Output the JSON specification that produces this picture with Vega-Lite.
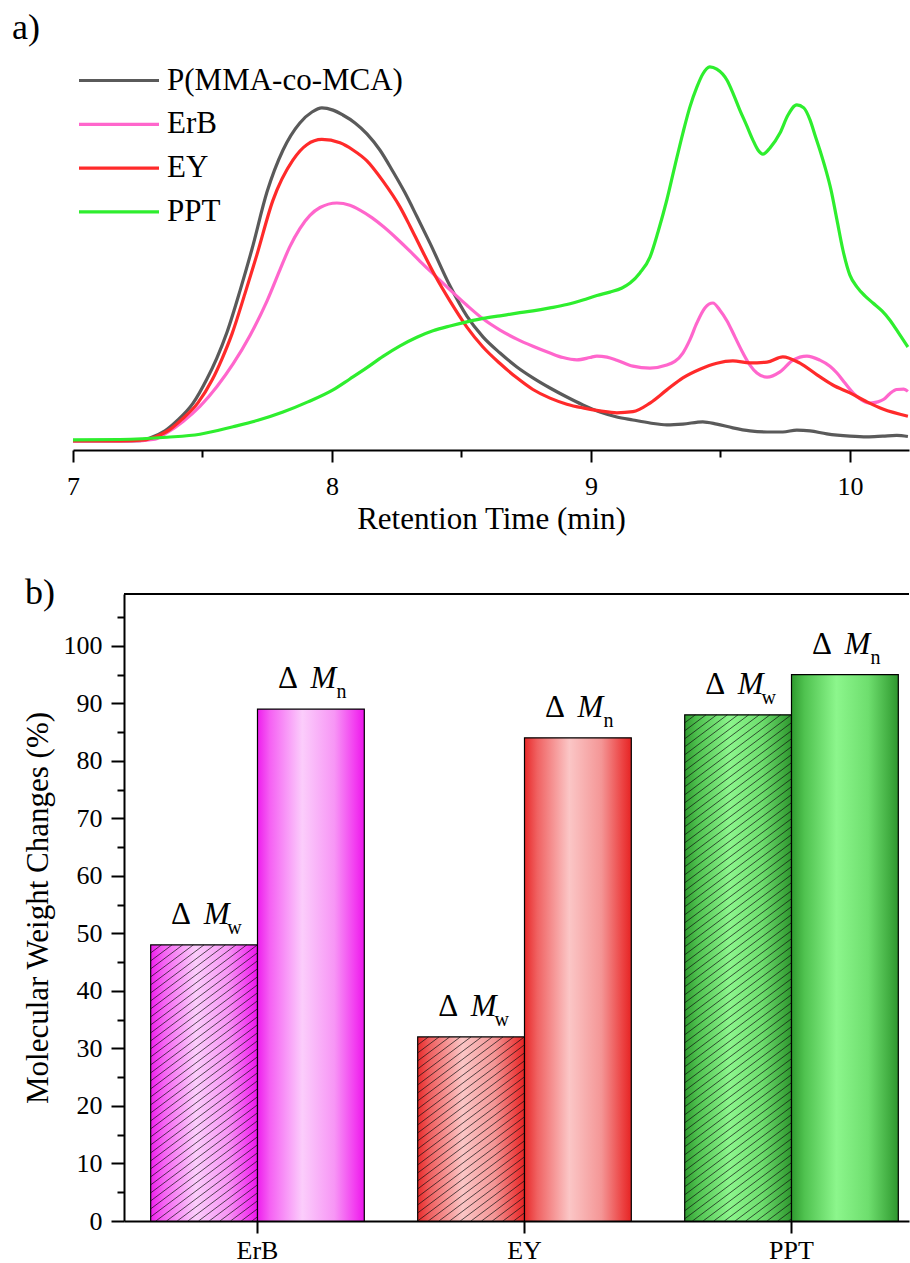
{
  "$schema": "https://vega.github.io/schema/vega-lite/v6.json",
  "background": "white",
  "padding": {"left": 12, "top": 10, "right": 0, "bottom": 0},
  "spacing": 40,
  "config": {
    "font": "'Liberation Serif', 'Times New Roman', serif",
    "view": {"stroke": null},
    "axis": {
      "labelFont": "'Liberation Serif', 'Times New Roman', serif", "titleFont": "'Liberation Serif', 'Times New Roman', serif",
      "labelColor": "#000", "titleColor": "#000", "domainColor": "#000", "tickColor": "#000",
      "domainWidth": 2, "tickWidth": 2, "labelFontSize": 26, "titleFontSize": 31,
      "titleFontWeight": "normal", "grid": false
    },
    "title": {"font": "'Liberation Serif', 'Times New Roman', serif", "fontSize": 36, "fontWeight": "normal", "color": "#000", "anchor": "start", "frame": "group"}
  },
  "datasets": {
    "gpc": [
      {"sample":"P(MMA-co-MCA)","t":7.000,"s":0},{"sample":"P(MMA-co-MCA)","t":7.181,"s":0},{"sample":"P(MMA-co-MCA)","t":7.259,"s":0.001},{"sample":"P(MMA-co-MCA)","t":7.297,"s":0.008},{"sample":"P(MMA-co-MCA)","t":7.355,"s":0.027},{"sample":"P(MMA-co-MCA)","t":7.402,"s":0.054},{"sample":"P(MMA-co-MCA)","t":7.463,"s":0.100},{"sample":"P(MMA-co-MCA)","t":7.517,"s":0.165},{"sample":"P(MMA-co-MCA)","t":7.555,"s":0.220},{"sample":"P(MMA-co-MCA)","t":7.595,"s":0.290},{"sample":"P(MMA-co-MCA)","t":7.645,"s":0.400},{"sample":"P(MMA-co-MCA)","t":7.691,"s":0.510},{"sample":"P(MMA-co-MCA)","t":7.749,"s":0.662},{"sample":"P(MMA-co-MCA)","t":7.811,"s":0.774},{"sample":"P(MMA-co-MCA)","t":7.876,"s":0.846},{"sample":"P(MMA-co-MCA)","t":7.923,"s":0.875},{"sample":"P(MMA-co-MCA)","t":7.961,"s":0.886},{"sample":"P(MMA-co-MCA)","t":8.004,"s":0.880},{"sample":"P(MMA-co-MCA)","t":8.042,"s":0.867},{"sample":"P(MMA-co-MCA)","t":8.089,"s":0.846},{"sample":"P(MMA-co-MCA)","t":8.135,"s":0.817},{"sample":"P(MMA-co-MCA)","t":8.185,"s":0.774},{"sample":"P(MMA-co-MCA)","t":8.236,"s":0.716},{"sample":"P(MMA-co-MCA)","t":8.282,"s":0.660},{"sample":"P(MMA-co-MCA)","t":8.328,"s":0.597},{"sample":"P(MMA-co-MCA)","t":8.378,"s":0.527},{"sample":"P(MMA-co-MCA)","t":8.456,"s":0.412},{"sample":"P(MMA-co-MCA)","t":8.521,"s":0.332},{"sample":"P(MMA-co-MCA)","t":8.583,"s":0.277},{"sample":"P(MMA-co-MCA)","t":8.649,"s":0.234},{"sample":"P(MMA-co-MCA)","t":8.714,"s":0.197},{"sample":"P(MMA-co-MCA)","t":8.776,"s":0.168},{"sample":"P(MMA-co-MCA)","t":8.842,"s":0.141},{"sample":"P(MMA-co-MCA)","t":8.907,"s":0.117},{"sample":"P(MMA-co-MCA)","t":8.969,"s":0.096},{"sample":"P(MMA-co-MCA)","t":9.035,"s":0.077},{"sample":"P(MMA-co-MCA)","t":9.100,"s":0.064},{"sample":"P(MMA-co-MCA)","t":9.162,"s":0.056},{"sample":"P(MMA-co-MCA)","t":9.228,"s":0.048},{"sample":"P(MMA-co-MCA)","t":9.293,"s":0.043},{"sample":"P(MMA-co-MCA)","t":9.355,"s":0.045},{"sample":"P(MMA-co-MCA)","t":9.432,"s":0.051},{"sample":"P(MMA-co-MCA)","t":9.486,"s":0.045},{"sample":"P(MMA-co-MCA)","t":9.548,"s":0.035},{"sample":"P(MMA-co-MCA)","t":9.614,"s":0.027},{"sample":"P(MMA-co-MCA)","t":9.680,"s":0.024},{"sample":"P(MMA-co-MCA)","t":9.741,"s":0.024},{"sample":"P(MMA-co-MCA)","t":9.795,"s":0.029},{"sample":"P(MMA-co-MCA)","t":9.846,"s":0.027},{"sample":"P(MMA-co-MCA)","t":9.911,"s":0.019},{"sample":"P(MMA-co-MCA)","t":10.000,"s":0.013},{"sample":"P(MMA-co-MCA)","t":10.066,"s":0.011},{"sample":"P(MMA-co-MCA)","t":10.127,"s":0.013},{"sample":"P(MMA-co-MCA)","t":10.181,"s":0.015},{"sample":"P(MMA-co-MCA)","t":10.224,"s":0.012},

      {"sample":"ErB","t":7.000,"s":0},{"sample":"ErB","t":7.220,"s":0},{"sample":"ErB","t":7.317,"s":0.005},{"sample":"ErB","t":7.363,"s":0.022},{"sample":"ErB","t":7.425,"s":0.052},{"sample":"ErB","t":7.490,"s":0.092},{"sample":"ErB","t":7.556,"s":0.145},{"sample":"ErB","t":7.618,"s":0.205},{"sample":"ErB","t":7.683,"s":0.280},{"sample":"ErB","t":7.749,"s":0.372},{"sample":"ErB","t":7.799,"s":0.455},{"sample":"ErB","t":7.836,"s":0.515},{"sample":"ErB","t":7.876,"s":0.565},{"sample":"ErB","t":7.915,"s":0.600},{"sample":"ErB","t":7.954,"s":0.621},{"sample":"ErB","t":8.019,"s":0.633},{"sample":"ErB","t":8.069,"s":0.627},{"sample":"ErB","t":8.108,"s":0.614},{"sample":"ErB","t":8.154,"s":0.594},{"sample":"ErB","t":8.197,"s":0.571},{"sample":"ErB","t":8.251,"s":0.538},{"sample":"ErB","t":8.301,"s":0.505},{"sample":"ErB","t":8.340,"s":0.478},{"sample":"ErB","t":8.398,"s":0.440},{"sample":"ErB","t":8.456,"s":0.402},{"sample":"ErB","t":8.521,"s":0.361},{"sample":"ErB","t":8.583,"s":0.325},{"sample":"ErB","t":8.649,"s":0.295},{"sample":"ErB","t":8.714,"s":0.271},{"sample":"ErB","t":8.776,"s":0.252},{"sample":"ErB","t":8.842,"s":0.234},{"sample":"ErB","t":8.892,"s":0.222},{"sample":"ErB","t":8.946,"s":0.216},{"sample":"ErB","t":8.996,"s":0.222},{"sample":"ErB","t":9.023,"s":0.226},{"sample":"ErB","t":9.062,"s":0.223},{"sample":"ErB","t":9.100,"s":0.215},{"sample":"ErB","t":9.162,"s":0.199},{"sample":"ErB","t":9.228,"s":0.194},{"sample":"ErB","t":9.293,"s":0.202},{"sample":"ErB","t":9.355,"s":0.234},{"sample":"ErB","t":9.382,"s":0.269},{"sample":"ErB","t":9.409,"s":0.314},{"sample":"ErB","t":9.440,"s":0.354},{"sample":"ErB","t":9.471,"s":0.367},{"sample":"ErB","t":9.498,"s":0.348},{"sample":"ErB","t":9.525,"s":0.320},{"sample":"ErB","t":9.556,"s":0.277},{"sample":"ErB","t":9.587,"s":0.234},{"sample":"ErB","t":9.614,"s":0.202},{"sample":"ErB","t":9.641,"s":0.181},{"sample":"ErB","t":9.680,"s":0.170},{"sample":"ErB","t":9.730,"s":0.184},{"sample":"ErB","t":9.780,"s":0.215},{"sample":"ErB","t":9.834,"s":0.226},{"sample":"ErB","t":9.884,"s":0.215},{"sample":"ErB","t":9.923,"s":0.199},{"sample":"ErB","t":9.950,"s":0.181},{"sample":"ErB","t":9.981,"s":0.154},{"sample":"ErB","t":10.012,"s":0.128},{"sample":"ErB","t":10.046,"s":0.109},{"sample":"ErB","t":10.077,"s":0.101},{"sample":"ErB","t":10.108,"s":0.104},{"sample":"ErB","t":10.131,"s":0.111},{"sample":"ErB","t":10.154,"s":0.126},{"sample":"ErB","t":10.181,"s":0.137},{"sample":"ErB","t":10.208,"s":0.138},{"sample":"ErB","t":10.224,"s":0.132},

      {"sample":"EY","t":7.000,"s":0},{"sample":"EY","t":7.181,"s":0},{"sample":"EY","t":7.278,"s":0.003},{"sample":"EY","t":7.317,"s":0.011},{"sample":"EY","t":7.375,"s":0.031},{"sample":"EY","t":7.421,"s":0.058},{"sample":"EY","t":7.483,"s":0.102},{"sample":"EY","t":7.537,"s":0.162},{"sample":"EY","t":7.575,"s":0.218},{"sample":"EY","t":7.614,"s":0.285},{"sample":"EY","t":7.664,"s":0.392},{"sample":"EY","t":7.710,"s":0.495},{"sample":"EY","t":7.772,"s":0.640},{"sample":"EY","t":7.849,"s":0.747},{"sample":"EY","t":7.903,"s":0.788},{"sample":"EY","t":7.961,"s":0.802},{"sample":"EY","t":8.031,"s":0.793},{"sample":"EY","t":8.081,"s":0.774},{"sample":"EY","t":8.135,"s":0.745},{"sample":"EY","t":8.197,"s":0.691},{"sample":"EY","t":8.263,"s":0.622},{"sample":"EY","t":8.301,"s":0.572},{"sample":"EY","t":8.340,"s":0.518},{"sample":"EY","t":8.398,"s":0.440},{"sample":"EY","t":8.456,"s":0.372},{"sample":"EY","t":8.521,"s":0.303},{"sample":"EY","t":8.583,"s":0.250},{"sample":"EY","t":8.649,"s":0.206},{"sample":"EY","t":8.714,"s":0.168},{"sample":"EY","t":8.776,"s":0.137},{"sample":"EY","t":8.842,"s":0.114},{"sample":"EY","t":8.907,"s":0.098},{"sample":"EY","t":8.969,"s":0.088},{"sample":"EY","t":9.035,"s":0.080},{"sample":"EY","t":9.100,"s":0.075},{"sample":"EY","t":9.162,"s":0.078},{"sample":"EY","t":9.228,"s":0.101},{"sample":"EY","t":9.293,"s":0.136},{"sample":"EY","t":9.355,"s":0.168},{"sample":"EY","t":9.421,"s":0.191},{"sample":"EY","t":9.486,"s":0.207},{"sample":"EY","t":9.548,"s":0.213},{"sample":"EY","t":9.614,"s":0.208},{"sample":"EY","t":9.680,"s":0.210},{"sample":"EY","t":9.741,"s":0.224},{"sample":"EY","t":9.807,"s":0.207},{"sample":"EY","t":9.873,"s":0.176},{"sample":"EY","t":9.934,"s":0.149},{"sample":"EY","t":10.000,"s":0.128},{"sample":"EY","t":10.066,"s":0.104},{"sample":"EY","t":10.127,"s":0.085},{"sample":"EY","t":10.224,"s":0.066},

      {"sample":"PPT","t":7.000,"s":0.003},{"sample":"PPT","t":7.181,"s":0.004},{"sample":"PPT","t":7.363,"s":0.010},{"sample":"PPT","t":7.490,"s":0.018},{"sample":"PPT","t":7.618,"s":0.038},{"sample":"PPT","t":7.714,"s":0.055},{"sample":"PPT","t":7.811,"s":0.077},{"sample":"PPT","t":7.907,"s":0.104},{"sample":"PPT","t":8.004,"s":0.136},{"sample":"PPT","t":8.069,"s":0.165},{"sample":"PPT","t":8.135,"s":0.195},{"sample":"PPT","t":8.197,"s":0.225},{"sample":"PPT","t":8.263,"s":0.253},{"sample":"PPT","t":8.328,"s":0.276},{"sample":"PPT","t":8.390,"s":0.293},{"sample":"PPT","t":8.456,"s":0.306},{"sample":"PPT","t":8.521,"s":0.317},{"sample":"PPT","t":8.583,"s":0.326},{"sample":"PPT","t":8.649,"s":0.333},{"sample":"PPT","t":8.714,"s":0.340},{"sample":"PPT","t":8.776,"s":0.346},{"sample":"PPT","t":8.842,"s":0.354},{"sample":"PPT","t":8.907,"s":0.363},{"sample":"PPT","t":8.969,"s":0.375},{"sample":"PPT","t":9.023,"s":0.387},{"sample":"PPT","t":9.073,"s":0.396},{"sample":"PPT","t":9.120,"s":0.407},{"sample":"PPT","t":9.151,"s":0.420},{"sample":"PPT","t":9.189,"s":0.447},{"sample":"PPT","t":9.228,"s":0.489},{"sample":"PPT","t":9.259,"s":0.556},{"sample":"PPT","t":9.293,"s":0.641},{"sample":"PPT","t":9.324,"s":0.731},{"sample":"PPT","t":9.355,"s":0.819},{"sample":"PPT","t":9.382,"s":0.888},{"sample":"PPT","t":9.409,"s":0.941},{"sample":"PPT","t":9.432,"s":0.976},{"sample":"PPT","t":9.459,"s":0.995},{"sample":"PPT","t":9.486,"s":0.989},{"sample":"PPT","t":9.525,"s":0.960},{"sample":"PPT","t":9.548,"s":0.926},{"sample":"PPT","t":9.575,"s":0.880},{"sample":"PPT","t":9.602,"s":0.838},{"sample":"PPT","t":9.625,"s":0.801},{"sample":"PPT","t":9.645,"s":0.774},{"sample":"PPT","t":9.664,"s":0.763},{"sample":"PPT","t":9.691,"s":0.779},{"sample":"PPT","t":9.730,"s":0.819},{"sample":"PPT","t":9.761,"s":0.867},{"sample":"PPT","t":9.795,"s":0.894},{"sample":"PPT","t":9.822,"s":0.886},{"sample":"PPT","t":9.846,"s":0.854},{"sample":"PPT","t":9.865,"s":0.814},{"sample":"PPT","t":9.884,"s":0.774},{"sample":"PPT","t":9.907,"s":0.721},{"sample":"PPT","t":9.927,"s":0.668},{"sample":"PPT","t":9.950,"s":0.588},{"sample":"PPT","t":9.973,"s":0.508},{"sample":"PPT","t":10.000,"s":0.441},{"sample":"PPT","t":10.027,"s":0.410},{"sample":"PPT","t":10.058,"s":0.386},{"sample":"PPT","t":10.089,"s":0.367},{"sample":"PPT","t":10.124,"s":0.346},{"sample":"PPT","t":10.154,"s":0.322},{"sample":"PPT","t":10.193,"s":0.282},{"sample":"PPT","t":10.224,"s":0.250}
    ],
    "mw": [
      {"cat": "ErB", "series": "Mw", "value": 48, "sub": "w"},
      {"cat": "ErB", "series": "Mn", "value": 89, "sub": "n"},
      {"cat": "EY", "series": "Mw", "value": 32, "sub": "w"},
      {"cat": "EY", "series": "Mn", "value": 84, "sub": "n"},
      {"cat": "PPT", "series": "Mw", "value": 88, "sub": "w"},
      {"cat": "PPT", "series": "Mn", "value": 95, "sub": "n"}
    ]
  },
  "vconcat": [
    {
      "title": {"text": "a)", "dx": -112, "offset": -15, "baseline": "alphabetic"},
      "width": 785,
      "height": 390,
      "data": {"name": "gpc"},
      "mark": {"type": "line", "strokeWidth": 3.2, "interpolate": "monotone"},
      "encoding": {
        "x": {
          "field": "t", "type": "quantitative",
          "scale": {"domain": [7, 10.2282], "range": [-51, 785], "nice": false, "zero": false},
          "axis": {
            "title": "Retention Time (min)",
            "values": [7, 7.5, 8, 8.5, 9, 9.5, 10],
            "labelExpr": "datum.value % 1 === 0 ? format(datum.value, 'd') : ''",
            "tickSize": {"condition": {"test": "datum.value % 1 === 0", "value": 12}, "value": 7},
            "labelPadding": 11, "titlePadding": 5, "labelFlush": false, "labelOverlap": false
          }
        },
        "y": {
          "field": "s", "type": "quantitative",
          "scale": {"domain": [-0.0239, 1.0133], "nice": false, "zero": false},
          "axis": null
        },
        "color": {
          "field": "sample", "type": "nominal",
          "scale": {"domain": ["P(MMA-co-MCA)", "ErB", "EY", "PPT"], "range": ["#5a5a5a", "#ff66cc", "#ff2a2a", "#2eee2e"]},
          "legend": {
            "orient": "none", "legendX": -23, "legendY": 2.5, "title": null, "padding": 0,
            "symbolType": "M-2.5,0H2.5", "symbolSize": 1024, "symbolStrokeWidth": 3.2,
            "labelFont": "'Liberation Serif', 'Times New Roman', serif", "labelFontSize": 31, "labelColor": "#000",
            "rowPadding": 10.8, "labelOffset": 30, "labelLimit": 400
          }
        }
      }
    },
    {
      "title": {"text": "b)", "dx": -99, "offset": 0, "dy": 46, "baseline": "alphabetic"},
      "width": 785,
      "height": 627,
      "view": {"stroke": "#000", "strokeWidth": 2, "strokeDash": [785, 3000]},
      "data": {"name": "mw"},
      "encoding": {
        "x": {
          "field": "cat", "type": "nominal", "sort": ["ErB", "EY", "PPT"],
          "scale": {"paddingInner": 0.2, "paddingOuter": 0.07, "align": 0.714},
          "axis": {"title": null, "domain": true, "tickSize": 12, "labelAngle": 0, "labelPadding": 4}
        },
        "xOffset": {
          "field": "series", "type": "nominal",
          "scale": {"domain": ["Mw", "Mn"], "paddingInner": 0, "paddingOuter": 0}
        },
        "y": {
          "field": "value", "type": "quantitative",
          "scale": {"domain": [0, 109], "nice": false},
          "axis": {
            "title": "Molecular Weight Changes (%)",
            "values": [0, 5, 10, 15, 20, 25, 30, 35, 40, 45, 50, 55, 60, 65, 70, 75, 80, 85, 90, 95, 100, 105],
            "labelExpr": "datum.value % 10 === 0 ? datum.label : ''",
            "tickSize": {"condition": {"test": "datum.value % 10 === 0", "value": 13}, "value": 7},
            "labelPadding": 9, "titlePadding": 9, "labelOverlap": false, "labelFlush": false
          }
        }
      },
      "layer": [
        {
          "mark": {"type": "bar", "stroke": "#000", "strokeWidth": 1.2},
          "encoding": {
            "fill": {
              "condition": [
                {"test": "datum.cat === 'ErB'", "value": {"gradient": "linear", "x1": 0, "y1": 0, "x2": 1, "y2": 0, "stops": [{"offset": 0, "color": "#ee1eed"}, {"offset": 0.12, "color": "#f562f3"}, {"offset": 0.42, "color": "#fbcdfb"}, {"offset": 0.72, "color": "#f796f5"}, {"offset": 0.92, "color": "#f23af0"}, {"offset": 1, "color": "#ec16eb"}]}},
                {"test": "datum.cat === 'EY'", "value": {"gradient": "linear", "x1": 0, "y1": 0, "x2": 1, "y2": 0, "stops": [{"offset": 0, "color": "#e82a2a"}, {"offset": 0.12, "color": "#f06262"}, {"offset": 0.42, "color": "#fbc6c6"}, {"offset": 0.72, "color": "#f49696"}, {"offset": 0.92, "color": "#ec4242"}, {"offset": 1, "color": "#e62424"}]}}
              ],
              "value": {"gradient": "linear", "x1": 0, "y1": 0, "x2": 1, "y2": 0, "stops": [{"offset": 0, "color": "#2f9a2f"}, {"offset": 0.12, "color": "#4fc24f"}, {"offset": 0.42, "color": "#8cf68c"}, {"offset": 0.72, "color": "#6ede6e"}, {"offset": 0.92, "color": "#40ac40"}, {"offset": 1, "color": "#2e962e"}]}
            }
          }
        },
        {
          "transform": [{"filter": "datum.cat === 'ErB' && datum.series === 'Mw'"}],
          "mark": {"type": "point", "size": 4, "filled": false, "stroke": "#111", "strokeWidth": 1, "opacity": 0.7,
            "shape": "M-53.4,8l10.67,-8M-53.4,16l21.33,-16M-53.4,24l32,-24M-53.4,32l42.67,-32M-53.4,40l53.33,-40M-53.4,48l64,-48M-53.4,56l74.67,-56M-53.4,64l85.33,-64M-53.4,72l96,-72M-53.4,80l106.67,-80M-53.4,88l106.8,-80.1M-53.4,96l106.8,-80.1M-53.4,104l106.8,-80.1M-53.4,112l106.8,-80.1M-53.4,120l106.8,-80.1M-53.4,128l106.8,-80.1M-53.4,136l106.8,-80.1M-53.4,144l106.8,-80.1M-53.4,152l106.8,-80.1M-53.4,160l106.8,-80.1M-53.4,168l106.8,-80.1M-53.4,176l106.8,-80.1M-53.4,184l106.8,-80.1M-53.4,192l106.8,-80.1M-53.4,200l106.8,-80.1M-53.4,208l106.8,-80.1M-53.4,216l106.8,-80.1M-53.4,224l106.8,-80.1M-53.4,232l106.8,-80.1M-53.4,240l106.8,-80.1M-53.4,248l106.8,-80.1M-53.4,256l106.8,-80.1M-53.4,264l106.8,-80.1M-53.4,272l106.8,-80.1M-48.2,276.1l101.6,-76.2M-37.53,276.1l90.93,-68.2M-26.87,276.1l80.27,-60.2M-16.2,276.1l69.6,-52.2M-5.53,276.1l58.93,-44.2M5.13,276.1l48.27,-36.2M15.8,276.1l37.6,-28.2M26.47,276.1l26.93,-20.2M37.13,276.1l16.27,-12.2M47.8,276.1l5.6,-4.2"}
        },
        {
          "transform": [{"filter": "datum.cat === 'EY' && datum.series === 'Mw'"}],
          "mark": {"type": "point", "size": 4, "filled": false, "stroke": "#111", "strokeWidth": 1, "opacity": 0.7,
            "shape": "M-53.4,8l10.67,-8M-53.4,16l21.33,-16M-53.4,24l32,-24M-53.4,32l42.67,-32M-53.4,40l53.33,-40M-53.4,48l64,-48M-53.4,56l74.67,-56M-53.4,64l85.33,-64M-53.4,72l96,-72M-53.4,80l106.67,-80M-53.4,88l106.8,-80.1M-53.4,96l106.8,-80.1M-53.4,104l106.8,-80.1M-53.4,112l106.8,-80.1M-53.4,120l106.8,-80.1M-53.4,128l106.8,-80.1M-53.4,136l106.8,-80.1M-53.4,144l106.8,-80.1M-53.4,152l106.8,-80.1M-53.4,160l106.8,-80.1M-53.4,168l106.8,-80.1M-53.4,176l106.8,-80.1M-53.4,184l106.8,-80.1M-42.83,184.07l96.23,-72.17M-32.16,184.07l85.56,-64.17M-21.49,184.07l74.89,-56.17M-10.83,184.07l64.23,-48.17M-0.16,184.07l53.56,-40.17M10.51,184.07l42.89,-32.17M21.17,184.07l32.23,-24.17M31.84,184.07l21.56,-16.17M42.51,184.07l10.89,-8.17"}
        },
        {
          "transform": [{"filter": "datum.cat === 'PPT' && datum.series === 'Mw'"}],
          "mark": {"type": "point", "size": 4, "filled": false, "stroke": "#111", "strokeWidth": 1, "opacity": 0.7,
            "shape": "M-53.4,8l10.67,-8M-53.4,16l21.33,-16M-53.4,24l32,-24M-53.4,32l42.67,-32M-53.4,40l53.33,-40M-53.4,48l64,-48M-53.4,56l74.67,-56M-53.4,64l85.33,-64M-53.4,72l96,-72M-53.4,80l106.67,-80M-53.4,88l106.8,-80.1M-53.4,96l106.8,-80.1M-53.4,104l106.8,-80.1M-53.4,112l106.8,-80.1M-53.4,120l106.8,-80.1M-53.4,128l106.8,-80.1M-53.4,136l106.8,-80.1M-53.4,144l106.8,-80.1M-53.4,152l106.8,-80.1M-53.4,160l106.8,-80.1M-53.4,168l106.8,-80.1M-53.4,176l106.8,-80.1M-53.4,184l106.8,-80.1M-53.4,192l106.8,-80.1M-53.4,200l106.8,-80.1M-53.4,208l106.8,-80.1M-53.4,216l106.8,-80.1M-53.4,224l106.8,-80.1M-53.4,232l106.8,-80.1M-53.4,240l106.8,-80.1M-53.4,248l106.8,-80.1M-53.4,256l106.8,-80.1M-53.4,264l106.8,-80.1M-53.4,272l106.8,-80.1M-53.4,280l106.8,-80.1M-53.4,288l106.8,-80.1M-53.4,296l106.8,-80.1M-53.4,304l106.8,-80.1M-53.4,312l106.8,-80.1M-53.4,320l106.8,-80.1M-53.4,328l106.8,-80.1M-53.4,336l106.8,-80.1M-53.4,344l106.8,-80.1M-53.4,352l106.8,-80.1M-53.4,360l106.8,-80.1M-53.4,368l106.8,-80.1M-53.4,376l106.8,-80.1M-53.4,384l106.8,-80.1M-53.4,392l106.8,-80.1M-53.4,400l106.8,-80.1M-53.4,408l106.8,-80.1M-53.4,416l106.8,-80.1M-53.4,424l106.8,-80.1M-53.4,432l106.8,-80.1M-53.4,440l106.8,-80.1M-53.4,448l106.8,-80.1M-53.4,456l106.8,-80.1M-53.4,464l106.8,-80.1M-53.4,472l106.8,-80.1M-53.4,480l106.8,-80.1M-53.4,488l106.8,-80.1M-53.4,496l106.8,-80.1M-53.4,504l106.8,-80.1M-45.67,506.2l99.07,-74.3M-35,506.2l88.4,-66.3M-24.33,506.2l77.73,-58.3M-13.67,506.2l67.07,-50.3M-3,506.2l56.4,-42.3M7.67,506.2l45.73,-34.3M18.33,506.2l35.07,-26.3M29,506.2l24.4,-18.3M39.67,506.2l13.73,-10.3M50.33,506.2l3.07,-2.3"}
        },
        {
          "mark": {"type": "text", "text": "Δ", "font": "'Liberation Serif', 'Times New Roman', serif", "fontSize": 31, "color": "#000", "align": "center", "baseline": "alphabetic", "dx": -23, "dy": -21}
        },
        {
          "mark": {"type": "text", "text": "M", "font": "'Liberation Serif', 'Times New Roman', serif", "fontStyle": "italic", "fontSize": 31, "color": "#000", "align": "center", "baseline": "alphabetic", "dx": 12.5, "dy": -21}
        },
        {
          "mark": {"type": "text", "font": "'Liberation Serif', 'Times New Roman', serif", "fontSize": 20, "color": "#000", "align": "center", "baseline": "alphabetic", "dx": 30.5, "dy": -11},
          "encoding": {"text": {"field": "sub", "type": "nominal"}}
        }
      ]
    }
  ]
}
